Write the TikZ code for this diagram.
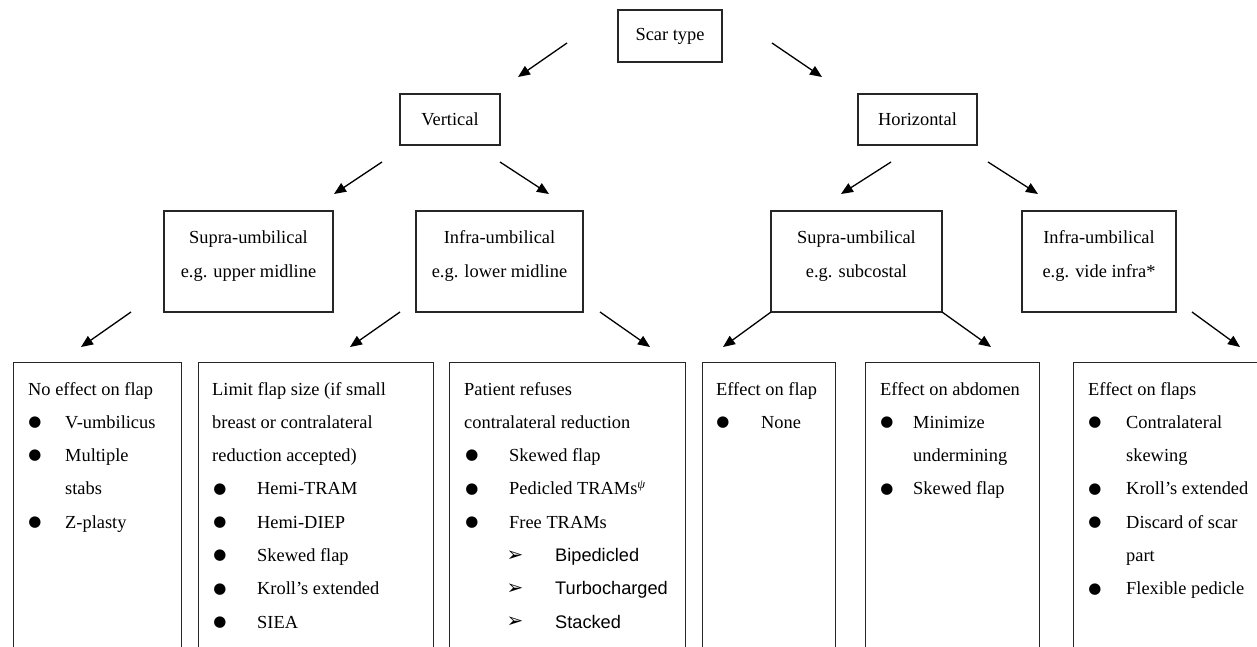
\documentclass[tikz,border=0pt]{standalone}
\usepackage{fontspec}
\setmainfont{Liberation Serif}
\newfontfamily\symfont{DejaVu Sans}
\newfontfamily\arialfont{Liberation Sans}
\usetikzlibrary{arrows.meta}
\tikzset{
  box/.style={draw=black!85, line width=1.1pt, inner sep=0pt},
  arr/.style={-{Triangle[length=12pt,width=10pt]}, line width=1.3pt, black},
  txt/.style={anchor=base west, inner sep=0pt},
  ctxt/.style={anchor=base, inner sep=0pt},
  bul/.style={inner sep=0pt, font=\symfont\fontsize{15}{15}\selectfont},
  subarr/.style={inner sep=0pt, font=\symfont\fontsize{20}{20}\selectfont},
  subtxt/.style={anchor=base west, inner sep=0pt, font=\arialfont\fontsize{18.2}{22}\selectfont},
}
% name, x bullet, x text, baseline y, text
\newcommand\bulitem[5]{%
  \node[bul] (#1b) at (#2,#4-5.5) {●};
  \node[txt] (#1) at (#3,#4) {#5};}
\newcommand\arrowitem[5]{%
  \node[subarr] (#1b) at (#2,#4-5.5) {➢};
  \node[subtxt] (#1) at (#3,#4) {#5};}
\begin{document}
\begin{tikzpicture}[x=1pt,y=-1pt,font=\fontsize{18.4}{22}\selectfont]
\useasboundingbox (0,0) rectangle (1257,646);
\clip (0,0) rectangle (1257,646);

% upper boxes
\node[box, minimum width=104pt, minimum height=52pt] (scar) at (670,36) {Scar type};
\node[box, minimum width=100pt, minimum height=51pt] (vert) at (450,119.5) {Vertical};
\node[box, minimum width=119pt, minimum height=51pt] (horz) at (917.5,119.5) {Horizontal};

\node[box, minimum width=169pt, minimum height=101pt] (supv) at (248.5,261.5) {};
\node[ctxt] (supvA) at (248.5,243) {Supra-umbilical};
\node[ctxt] (supvB) at (248.5,277) {e.g. upper midline};

\node[box, minimum width=167pt, minimum height=101pt] (infv) at (499.5,261.5) {};
\node[ctxt] (infvA) at (499.5,243) {Infra-umbilical};
\node[ctxt] (infvB) at (499.5,277) {e.g. lower midline};

\node[box, minimum width=171pt, minimum height=101pt] (suph) at (856.5,261.5) {};
\node[ctxt] (suphA) at (856.5,243) {Supra-umbilical};
\node[ctxt] (suphB) at (856.5,277) {e.g. subcostal};

\node[box, minimum width=154pt, minimum height=101pt] (infh) at (1099,261.5) {};
\node[ctxt] (infhA) at (1099,243) {Infra-umbilical};
\node[ctxt] (infhB) at (1099,277) {e.g. vide infra*};

% bottom boxes (run off the page)
\node[box, anchor=north west, minimum width=168pt, minimum height=320pt] (b1) at (13,362) {};
\node[box, anchor=north west, minimum width=235pt, minimum height=320pt] (b2) at (198,362) {};
\node[box, anchor=north west, minimum width=236pt, minimum height=320pt] (b3) at (449,362) {};
\node[box, anchor=north west, minimum width=133pt, minimum height=320pt] (b4) at (702,362) {};
\node[box, anchor=north west, minimum width=174pt, minimum height=320pt] (b5) at (865,362) {};
\node[box, anchor=north west, minimum width=220pt, minimum height=320pt] (b6) at (1073,362) {};

% arrow end points
\coordinate (s1) at (567,43);   \coordinate (e1) at (518,77);
\coordinate (s2) at (772,43);   \coordinate (e2) at (822,77);
\coordinate (s3) at (382,162);  \coordinate (e3) at (334,194);
\coordinate (s4) at (500,162);  \coordinate (e4) at (549,194);
\coordinate (s5) at (891,162);  \coordinate (e5) at (841,194);
\coordinate (s6) at (988,162);  \coordinate (e6) at (1038,194);
\coordinate (s7) at (131,312);  \coordinate (e7) at (81,347);
\coordinate (s8) at (400,312);  \coordinate (e8) at (350,347);
\coordinate (s9) at (600,312);  \coordinate (e9) at (650,347);
\coordinate (s10) at (771,312); \coordinate (e10) at (723,347);
\coordinate (s11) at (942,312); \coordinate (e11) at (991,347);
\coordinate (s12) at (1192,312);\coordinate (e12) at (1240,347);
\foreach \i in {1,...,12} {\draw[arr] (s\i) -- (e\i);}

% box 1
\node[txt] (h1) at (28,395) {No effect on flap};
\bulitem{i11}{35}{65}{428.3}{V-umbilicus}
\bulitem{i12}{35}{65}{461.6}{Multiple}
\node[txt] (i12c) at (65,494.9) {stabs};
\bulitem{i13}{35}{65}{528.2}{Z-plasty}

% box 2
\node[txt] (h2a) at (212,395) {Limit flap size (if small};
\node[txt] (h2b) at (212,428.3) {breast or contralateral};
\node[txt] (h2c) at (212,461.6) {reduction accepted)};
\bulitem{i21}{220}{257}{494.9}{Hemi-TRAM}
\bulitem{i22}{220}{257}{528.2}{Hemi-DIEP}
\bulitem{i23}{220}{257}{561.5}{Skewed flap}
\bulitem{i24}{220}{257}{594.8}{Kroll’s extended}
\bulitem{i25}{220}{257}{628.1}{SIEA}

% box 3
\node[txt] (h3a) at (464,395) {Patient refuses};
\node[txt] (h3b) at (464,428.3) {contralateral reduction};
\bulitem{i31}{472}{509}{461.6}{Skewed flap}
\bulitem{i32}{472}{509}{494.9}{Pedicled TRAMs\raisebox{6.5pt}{\fontsize{12.5}{12.5}\selectfont\itshape ψ}}
\bulitem{i33}{472}{509}{528.2}{Free TRAMs}
\arrowitem{i34}{515}{555}{561.5}{Bipedicled}
\arrowitem{i35}{515}{555}{594.8}{Turbocharged}
\arrowitem{i36}{515}{555}{628.1}{Stacked}

% box 4
\node[txt] (h4) at (716,395) {Effect on flap};
\bulitem{i41}{723}{761}{428.3}{None}

% box 5
\node[txt] (h5) at (880,395) {Effect on abdomen};
\bulitem{i51}{887}{913}{428.3}{Minimize}
\node[txt] (i51c) at (913,461.6) {undermining};
\bulitem{i52}{887}{913}{494.9}{Skewed flap}

% box 6
\node[txt] (h6) at (1088,395) {Effect on flaps};
\bulitem{i61}{1095}{1126}{428.3}{Contralateral}
\node[txt] (i61c) at (1126,461.6) {skewing};
\bulitem{i62}{1095}{1126}{494.9}{Kroll’s extended}
\bulitem{i63}{1095}{1126}{528.2}{Discard of scar}
\node[txt] (i63c) at (1126,561.5) {part};
\bulitem{i64}{1095}{1126}{594.8}{Flexible pedicle}
\end{tikzpicture}
\end{document}
